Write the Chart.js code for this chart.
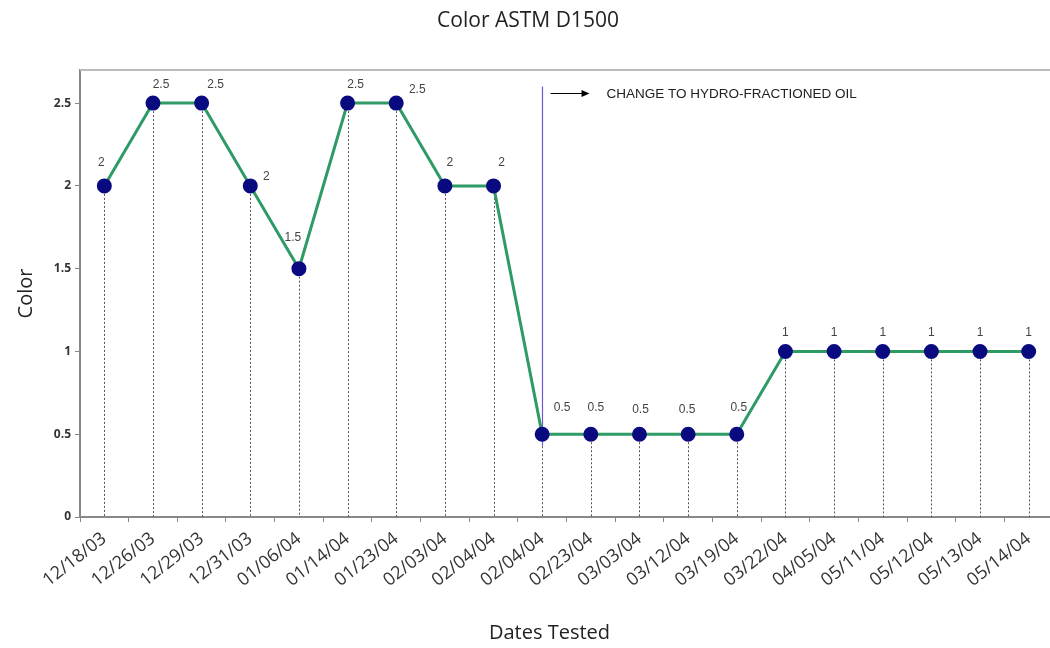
<!DOCTYPE html>
<html>
<head>
<meta charset="utf-8">
<script src="https://cdn.jsdelivr.net/npm/chart.js@4.4.1/dist/chart.umd.min.js"></script>
<style>
html,body{margin:0;padding:0;background:#fff;overflow:hidden;width:1050px;height:648px;}
#wrap{position:absolute;left:0;top:0;width:1062px;height:648px;}
</style>
</head>
<body>
<div id="wrap"><canvas id="c" width="1062" height="648"></canvas></div>
<script>
const dates = ["12/18/03","12/26/03","12/29/03","12/31/03","01/06/04","01/14/04","01/23/04","02/03/04","02/04/04","02/04/04","02/23/04","03/03/04","03/12/04","03/19/04","03/22/04","04/05/04","05/11/04","05/12/04","05/13/04","05/14/04"];
const colorValues = [2,2.5,2.5,2,1.5,2.5,2.5,2,2,0.5,0.5,0.5,0.5,0.5,1,1,1,1,1,1];
const yTicks = [0,0.5,1,1.5,2,2.5];
const changeIndex = 9;
const changeNote = "CHANGE TO HYDRO-FRACTIONED OIL";
const xTitle = "Dates Tested";
// label placement offsets (px) relative to each point
const labelDx = [-3,8,14,16,-6,8,21,5,8,20,5,1,-1,2,0,0,0,0,0,0];
const labelDy = [-23,-18,-18,-9,-31,-18,-13,-23,-23,-27,-27,-25,-25,-27,-19,-19,-19,-19,-19,-19];

const annot = {
  id:'annot',
  beforeDatasetsDraw(chart){
    const {ctx, chartArea:a, scales:{x,y}} = chart;
    ctx.save();
    // top border
    ctx.strokeStyle='#bbb'; ctx.lineWidth=2;
    ctx.beginPath(); ctx.moveTo(a.left,a.top); ctx.lineTo(a.right,a.top); ctx.stroke();
    // drop lines
    ctx.strokeStyle='#555'; ctx.lineWidth=1; ctx.setLineDash([2,2]);
    colorValues.forEach((v,i)=>{
      const px=Math.round(x.getPixelForValue(i))+0.5;
      ctx.beginPath(); ctx.moveTo(px,y.getPixelForValue(v)); ctx.lineTo(px,a.bottom); ctx.stroke();
    });
    ctx.setLineDash([]);
    // change line
    const cx=Math.round(x.getPixelForValue(changeIndex))+0.5;
    ctx.strokeStyle='#6a5acd'; ctx.lineWidth=1.2;
    ctx.beginPath(); ctx.moveTo(cx,y.getPixelForValue(2.6)); ctx.lineTo(cx,y.getPixelForValue(0.43)); ctx.stroke();
    // arrow
    const ay=Math.round(y.getPixelForValue(2.56))+0.5;
    ctx.strokeStyle='#000'; ctx.lineWidth=1;
    ctx.beginPath(); ctx.moveTo(cx+8,ay); ctx.lineTo(cx+42,ay); ctx.stroke();
    ctx.fillStyle='#000';
    ctx.beginPath(); ctx.moveTo(cx+47,ay); ctx.lineTo(cx+39,ay-3.5); ctx.lineTo(cx+39,ay+3.5); ctx.closePath(); ctx.fill();
    ctx.font='13.5px "Liberation Sans", Arial, sans-serif';
    ctx.fillStyle='#222'; ctx.textBaseline='middle'; ctx.textAlign='left';
    ctx.fillText(changeNote, cx+64, ay+1);
    // x axis title
    ctx.font='20px "Open Sans", sans-serif';
    ctx.fillStyle='#222'; ctx.textAlign='center';
    ctx.fillText(xTitle, (a.left+a.right)/2 - 17, 633);
    ctx.restore();
  },
  afterDatasetsDraw(chart){
    const {ctx, scales:{x,y}} = chart;
    ctx.save();
    ctx.font='12px "Liberation Sans", Arial, sans-serif';
    ctx.fillStyle='#444'; ctx.textAlign='center'; ctx.textBaseline='middle';
    colorValues.forEach((v,i)=>{
      ctx.fillText(String(v), x.getPixelForValue(i)+labelDx[i], y.getPixelForValue(v)+labelDy[i]);
    });
    ctx.restore();
  }
};

new Chart(document.getElementById('c'),{
  type:'line',
  data:{labels:dates,datasets:[{
    data:colorValues,
    borderColor:'#2e9a64',borderWidth:3,
    pointBackgroundColor:'#0a0a80',pointBorderColor:'#0a0a80',
    pointRadius:6,pointHoverRadius:6,tension:0
  }]},
  options:{
    responsive:false,animation:false,
    layout:{padding:{left:0,right:6,top:0,bottom:0}},
    plugins:{
      legend:{display:false},tooltip:{enabled:false},
      title:{display:true,text:'Color ASTM D1500',color:'#222',
        font:{family:'"Open Sans", sans-serif',size:21,weight:'normal',lineHeight:1.2},
        padding:{top:8,bottom:36.8}}
    },
    scales:{
      x:{
        offset:true,
        grid:{display:true,offset:true,drawOnChartArea:false,drawTicks:true,tickLength:5,color:'#888',lineWidth:1},
        border:{display:true,color:'#888',width:2},
        ticks:{color:'#333',font:{family:'"Open Sans", sans-serif',size:18},minRotation:38,maxRotation:38,autoSkip:false,padding:6},
        title:{display:false},
        afterFit(s){s.height=131;}
      },
      y:{
        min:0,max:2.7,
        afterBuildTicks(s){s.ticks=yTicks.map(v=>({value:v}));},
        grid:{display:true,drawOnChartArea:false,drawTicks:true,tickLength:5,color:'#888'},
        border:{display:true,color:'#888',width:2},
        ticks:{color:'#333',font:{family:'"Open Sans", sans-serif',size:12,weight:'bold'},padding:4,callback:(v)=>String(v)},
        title:{display:true,text:'Color',color:'#222',font:{family:'"Open Sans", sans-serif',size:20},padding:{top:14,bottom:0}},
        afterFit(s){s.width=80;}
      }
    }
  },
  plugins:[annot]
});
</script>
</body>
</html>
